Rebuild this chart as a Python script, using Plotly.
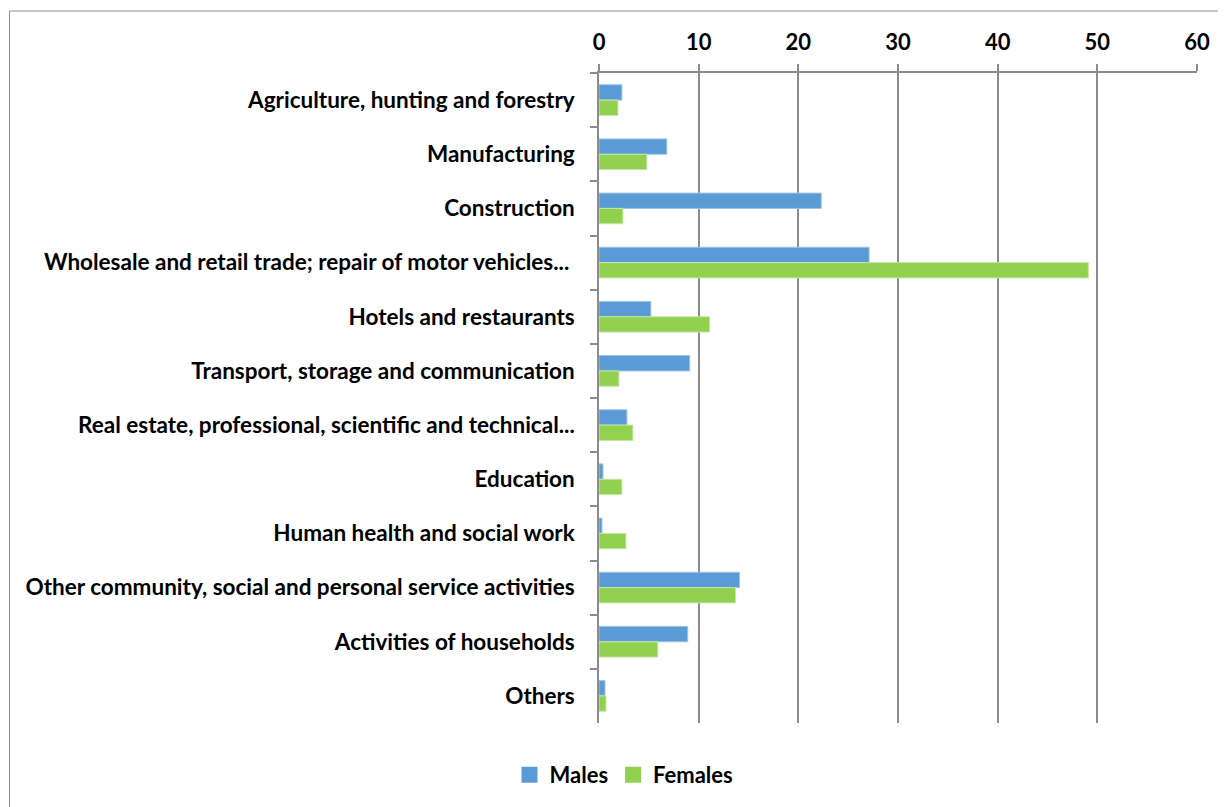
import plotly.graph_objects as go

categories = [
    "Agriculture, hunting and forestry",
    "Manufacturing",
    "Construction",
    "Wholesale and retail trade; repair of motor vehicles... ",
    "Hotels and restaurants",
    "Transport, storage and communication",
    "Real estate, professional, scientific and technical...",
    "Education",
    "Human health and social work",
    "Other community, social and personal service activities",
    "Activities of households",
    "Others",
]
males = [2.3, 6.8, 22.3, 27.1, 5.2, 9.1, 2.8, 0.4, 0.3, 14.1, 8.9, 0.6]
females = [1.9, 4.8, 2.4, 49.1, 11.1, 2.0, 3.4, 2.3, 2.7, 13.7, 5.9, 0.7]
x_ticks = [0, 10, 20, 30, 40, 50, 60]
series_names = ["Males", "Females"]
series_colors = ["#5B9BD5", "#92D050"]

FONT = "Lato"
W, H = 1226, 807
OFF = 8  # body margin of the page
L, R, T, B = 599 - OFF, 1226 - 1197 + OFF, 73 - OFF, H + OFF - 723

fig = go.Figure()
for name, vals, col, edge in zip(series_names, [males, females], series_colors,
                                 ["#9DC3E6", "#C5E8A5"]):
    fig.add_trace(go.Bar(y=categories, x=vals, name=name, orientation="h",
                         showlegend=False,
                         marker=dict(color=col, line=dict(color=edge, width=1))))
for name, col in zip(series_names, series_colors):
    fig.add_trace(go.Scatter(x=[None], y=[None], mode="markers", name=name,
                             marker=dict(symbol="square", size=16, color=col)))

pw = W - L - R
ph = H - T - B
fig.add_shape(type="rect", xref="paper", yref="paper",
              x0=(9.5 - 599) / pw, x1=(1245 - 599) / pw,
              y0=-(830 - 723) / ph, y1=1 + (73 - 11) / ph,
              line=dict(color="#8C8C8C", width=1), fillcolor="rgba(0,0,0,0)", layer="below")

fig.update_layout(
    width=W, height=H,
    margin=dict(l=L, r=R, t=T, b=B, autoexpand=False),
    paper_bgcolor="white", plot_bgcolor="white",
    barmode="group", bargap=0.434, bargroupgap=0,
    font=dict(family=FONT, size=22, color="black"),
    legend=dict(orientation="h", xref="container", yref="container",
                x=(624 - OFF) / W, y=1 - (775 - OFF) / H, xanchor="center", yanchor="middle",
                font=dict(family=FONT, size=22, color="black", weight="bold"),
                traceorder="normal", itemwidth=30),
    xaxis=dict(side="top", range=[0, 60], tickvals=x_ticks,
               showgrid=True, gridcolor="#8C8C8C", gridwidth=1.5,
               showline=True, linecolor="#8C8C8C", linewidth=1.5,
               ticks="outside", ticklen=7, tickcolor="#8C8C8C", tickwidth=1.5,
               ticklabelstandoff=5,
               tickfont=dict(family=FONT, size=22, color="black", weight="bold"),
               zeroline=False, fixedrange=True),
    yaxis=dict(autorange="reversed", type="category",
               showline=True, linecolor="#8C8C8C", linewidth=1.5,
               ticks="outside", ticklen=7, tickcolor="#8C8C8C", tickwidth=1.5,
               tickson="boundaries", ticklabelstandoff=18,
               tickfont=dict(family=FONT, size=22.5, color="black", weight="bold"),
               showgrid=False, fixedrange=True),
)

fig.write_html("out.html")
